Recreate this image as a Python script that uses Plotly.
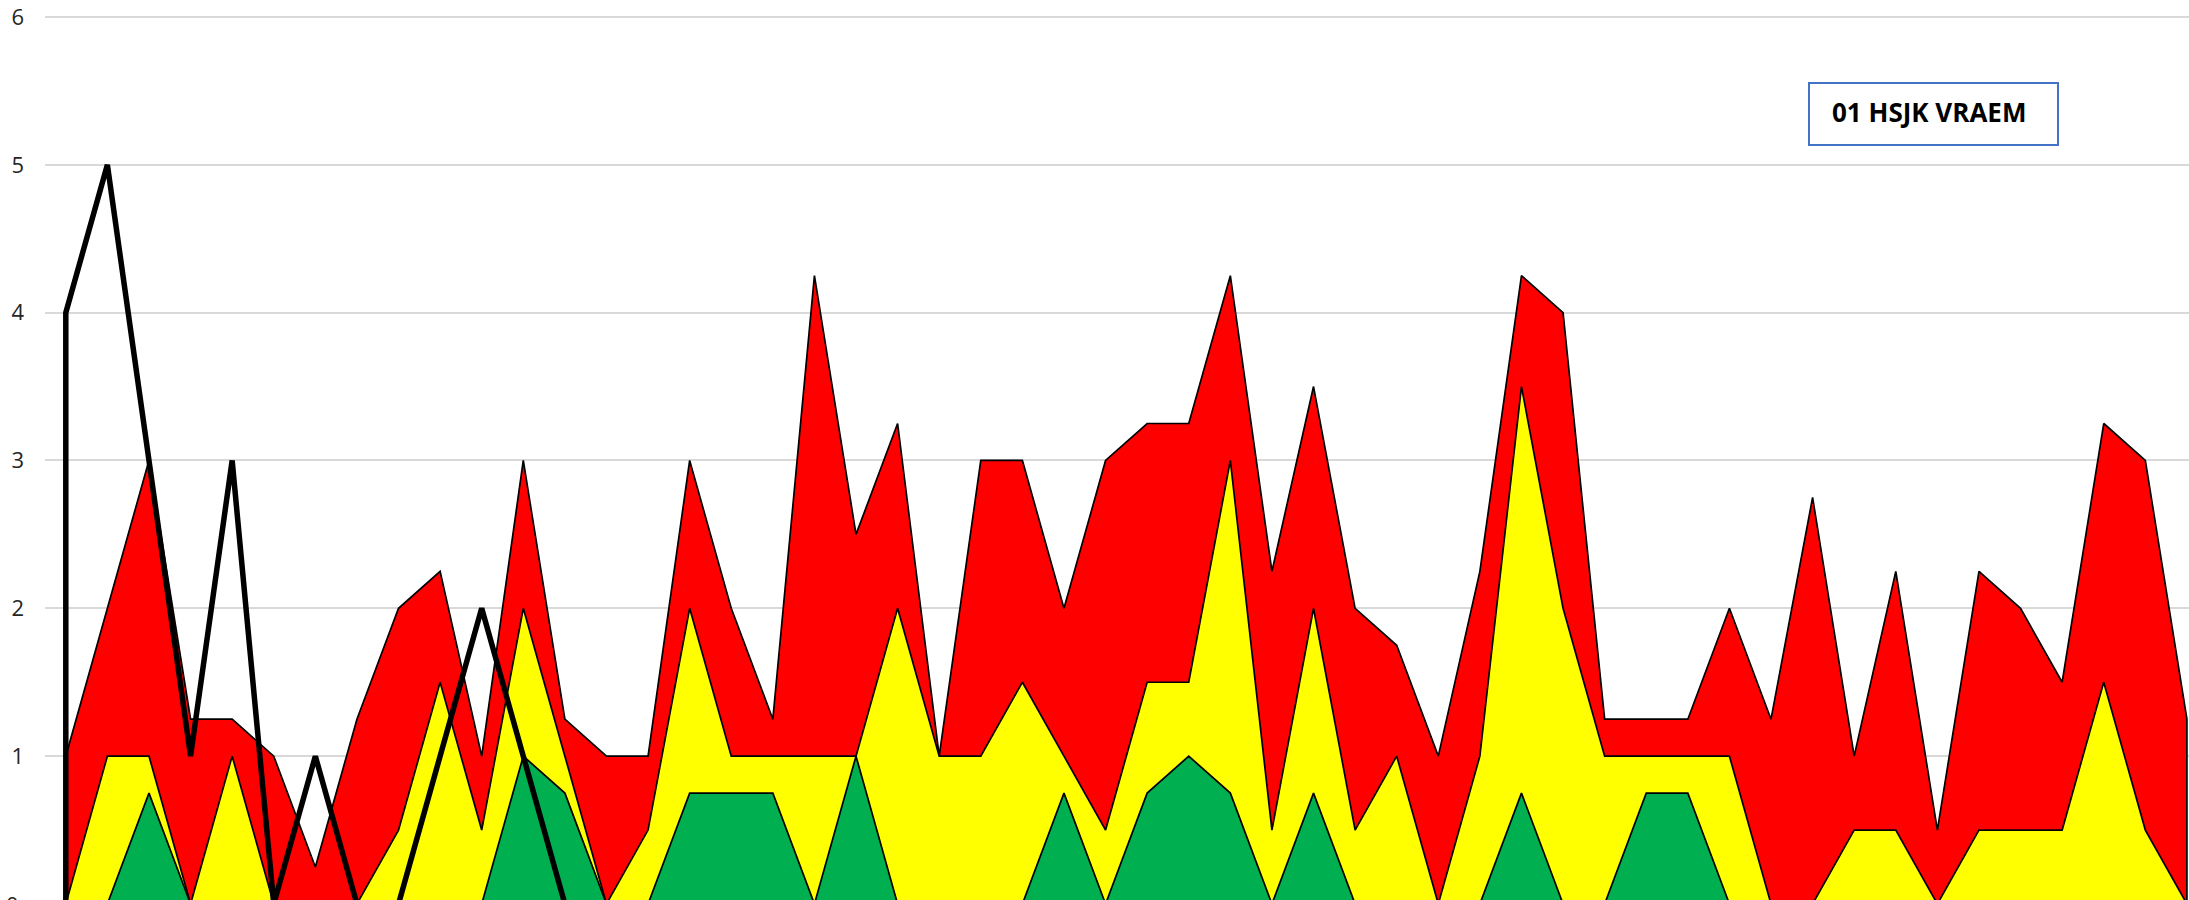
import plotly.graph_objects as go

# ---- data ----
categories = list(range(52))
red_values = [1, 2, 3, 1.25, 1.25, 1, 0.25, 1.25, 2, 2.25, 1, 3, 1.25, 1, 1, 3, 2, 1.25,
              4.25, 2.5, 3.25, 1, 3, 3, 2, 3, 3.25, 3.25, 4.25, 2.25, 3.5, 2, 1.75, 1,
              2.25, 4.25, 4, 1.25, 1.25, 1.25, 2, 1.25, 2.75, 1, 2.25, 0.5, 2.25, 2, 1.5,
              3.25, 3, 1.25]
yellow_values = [0, 1, 1, 0, 1, 0, 0, 0, 0.5, 1.5, 0.5, 2, 1, 0, 0.5, 2, 1, 1, 1, 1, 2, 1,
                 1, 1.5, 1, 0.5, 1.5, 1.5, 3, 0.5, 2, 0.5, 1, 0, 1, 3.5, 2, 1, 1, 1, 1, 0,
                 0, 0.5, 0.5, 0, 0.5, 0.5, 0.5, 1.5, 0.5, 0]
green_values = [0, 0, 0.75, 0, 0, 0, 0, 0, 0, 0, 0, 1, 0.75, 0, 0, 0.75, 0.75, 0.75, 0, 1,
                0, 0, 0, 0, 0.75, 0, 0.75, 1, 0.75, 0, 0.75, 0, 0, 0, 0, 0.75, 0, 0, 0.75,
                0.75, 0, 0, 0, 0, 0, 0, 0, 0, 0, 0, 0, 0]
black_values = [4, 5, 3, 1, 3, 0, 1, 0, 0, 1, 2, 1, 0] + [0] * 39
y_tick_values = [1, 2, 3, 4, 5, 6]
title_text = "01 HSJK VRAEM"

# page geometry (body margin is reset to 0 by the post script)
W, H = 2189, 900
PLOT_LEFT, PLOT_TOP = 45, 14
Y_LO, Y_HI = 0.027, 6.02
X_LO, X_HI = -0.5, 51.05


def closed(xs, ys):
    """Close an area polygon down to the baseline at both ends (like Excel area outline)."""
    return [xs[0]] + list(xs) + [xs[-1]], [0] + list(ys) + [0]


fig = go.Figure()
for vals, color in [(red_values, "#FF0000"), (yellow_values, "#FFFF00"), (green_values, "#00B050")]:
    cx, cy = closed(categories, vals)
    fig.add_trace(go.Scatter(
        x=cx, y=cy, mode="lines", fill="toself", fillcolor=color,
        line=dict(color="black", width=1.7), hoverinfo="skip", showlegend=False,
    ))

bx = [categories[0]] + categories
by = [0] + black_values
fig.add_trace(go.Scatter(
    x=bx, y=by, mode="lines", line=dict(color="black", width=5.5),
    hoverinfo="skip", showlegend=False,
))

plot_w = W - PLOT_LEFT
plot_h = H - PLOT_TOP


def px_x(p):
    return (p - PLOT_LEFT) / plot_w


def px_y(p):
    return (H - p) / plot_h


fig.update_layout(
    width=W, height=H,
    margin=dict(l=PLOT_LEFT, r=0, t=PLOT_TOP, b=0, pad=0, autoexpand=False),
    paper_bgcolor="white", plot_bgcolor="white",
    font=dict(family="Open Sans", color="#262626"),
    xaxis=dict(range=[X_LO, X_HI], showgrid=False, zeroline=False, automargin=False,
               showticklabels=False, showline=False, ticks=""),
    yaxis=dict(range=[Y_LO, Y_HI], tickvals=y_tick_values, showgrid=True, automargin=False,
               gridcolor="#d9d9d9", gridwidth=1.5, zeroline=False, showline=False,
               ticks="", tickfont=dict(size=22, color="#262626"),
               ticklabelstandoff=20, ticklabeloverflow="allow"),
    shapes=[dict(type="rect", xref="paper", yref="paper",
                 x0=px_x(1809), x1=px_x(2058), y0=px_y(145), y1=px_y(83),
                 line=dict(color="#4472C4", width=2), fillcolor="white", layer="above")],
    annotations=[
        dict(text=title_text, xref="paper", yref="paper", x=px_x(1830), y=px_y(112),
             xanchor="left", yanchor="middle", showarrow=False,
             font=dict(size=26, color="black", family="Open Sans", weight="bold")),
        dict(text="0", xref="paper", yref="paper", x=0, y=(0 - Y_LO) / (Y_HI - Y_LO),
             xanchor="right", yanchor="middle", xshift=-24, showarrow=False,
             font=dict(size=22, color="#262626")),
    ],
)

fig.write_html(
    "out.html",
    config={"displayModeBar": False},
    post_script="document.body.style.margin='0px';document.body.style.overflow='hidden';",
)
